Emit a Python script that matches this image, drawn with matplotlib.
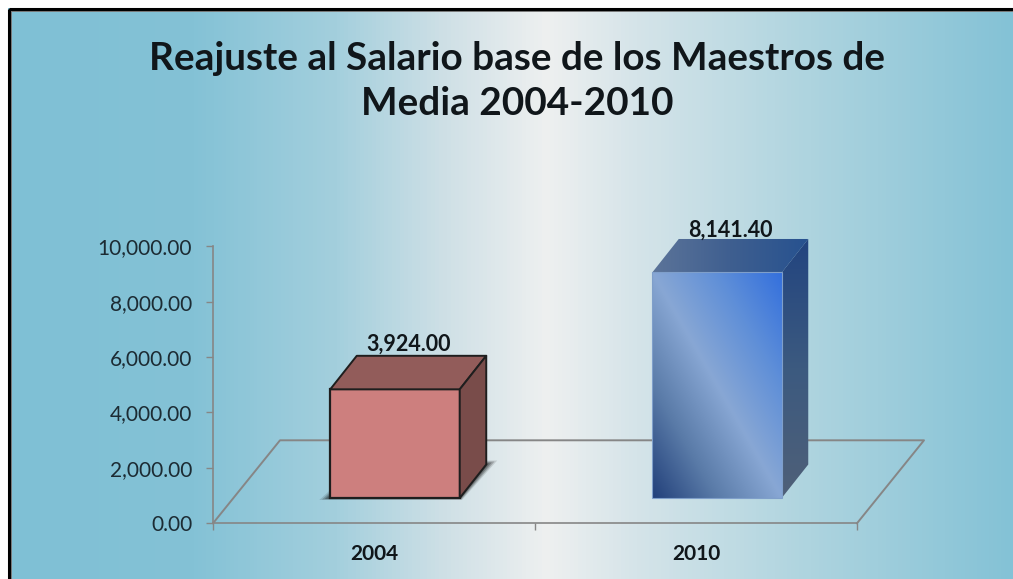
import numpy as np
import matplotlib
matplotlib.use("Agg")
import matplotlib.pyplot as plt
from matplotlib.colors import LinearSegmentedColormap
from matplotlib.patches import Polygon, Rectangle

plt.rcParams['font.family'] = ['Lato', 'DejaVu Sans']

title = "Reajuste al Salario base de los Maestros de\nMedia 2004-2010"
years = ["2004", "2010"]
salaries = [3924.00, 8141.40]
y_ticks = [0, 2000, 4000, 6000, 8000, 10000]

W, H = 1013, 579
GRID = "#868686"
TEXT = "#1c2b33"

# depth of the fake 3d, in pixels
PX_X = 644 / 2  # px per category
PX_Y = 277 / 10000  # px per unit
FLOOR_DX, FLOOR_DY = 67 / PX_X, 83 / PX_Y
BAR_DX, BAR_DY = 26.5 / PX_X, 33.5 / PX_Y
BAR_SHIFT_X, BAR_SHIFT_Y = 21 / PX_X, 25.3 / PX_Y
BAR_W = 129.5 / PX_X


def ramp(stops):
    return LinearSegmentedColormap.from_list("r", stops)


def grad_face(ax, pts, cmap, mode):
    # paint a gradient over the bounding box, clip it to the face
    pts = np.array(pts)
    x0, x1 = pts[:, 0].min(), pts[:, 0].max()
    y0, y1 = pts[:, 1].min(), pts[:, 1].max()
    u, v = np.meshgrid(np.linspace(0, 1, 200), np.linspace(0, 1, 200))
    if mode == "diag":
        t = (u + v) / 2
    elif mode == "x":
        t = u
    else:
        t = v
    im = ax.imshow(t, cmap=cmap, vmin=0, vmax=1, origin="lower", aspect="auto",
                   extent=(x0, x1, y0, y1), zorder=4, interpolation="bilinear")
    im.set_clip_box(fig.bbox)
    im.set_clip_path(Polygon(pts, closed=True, transform=ax.transData))


fig = plt.figure(figsize=(W / 100, H / 100), dpi=100, facecolor="white")

# background with the black frame
bg = fig.add_axes([0, 0, 1, 1])
bg.set_xlim(0, W)
bg.set_ylim(H, 0)
bg.axis("off")
bg_cmap = LinearSegmentedColormap.from_list("bg", [
    (0.00, "#7fc0d5"), (0.19, "#84c2d6"), (0.33, "#a3cfdd"), (0.44, "#cfe0e6"),
    (0.54, "#eef0f0"), (0.63, "#d5e4e9"), (0.80, "#aed4df"), (1.00, "#84c2d6")])
bg.imshow(np.linspace(0, 1, 1013).reshape(1, -1), cmap=bg_cmap, aspect="auto",
          extent=(0, W, H, 0), zorder=0)
bg.set_xlim(0, W)
bg.set_ylim(H, 0)
bg.add_patch(Rectangle((0, 0), 8, H, fc="white", ec="none", zorder=1))
bg.add_patch(Rectangle((0, 0), W, 8, fc="white", ec="none", zorder=1))
bg.add_patch(Rectangle((9, 9), W + 20, H + 20, fill=False, ec="black", lw=2.2, zorder=2))
bg.add_patch(Rectangle((10.5, 10.5), W + 20, H + 20, fill=False, ec="#777777", lw=0.7, zorder=2))

fig.text(517, H - 81, title, transform=None, ha="center", va="center", fontsize=27.9,
         fontweight="bold", color="#10161a", linespacing=1.32)

ax = fig.add_axes([213 / W, (H - 523.3) / H, 644 / W, 277 / H])
ax.patch.set_alpha(0)
x = np.arange(len(years))

# floor
ax.plot([-0.5, -0.5 + FLOOR_DX, 1.5 + FLOOR_DX, 1.5],
        [0, FLOOR_DY, FLOOR_DY, 0], color=GRID, lw=1.4, clip_on=False, zorder=2)

# soft shadow of the first bar
sx = x[0] + BAR_SHIFT_X - BAR_W / 2
sy = BAR_SHIFT_Y
for grow, alpha in zip([1.0, 0.75, 0.5, 0.25], [0.12, 0.2, 0.25, 0.3]):
    ex = grow * 11 / PX_X
    ey = grow * 2 / PX_Y
    ax.add_patch(Polygon([(sx - ex, sy - ey), (sx + BAR_W + 0.2 * ex, sy - ey),
                          (sx + BAR_W + BAR_DX + ex, sy + BAR_DY + 2 * ey),
                          (sx + BAR_W + BAR_DX - 0.02, sy + BAR_DY + 2 * ey),
                          (sx, sy + 4 * ey)],
                         closed=True, fc="black", ec="none", alpha=alpha, clip_on=False, zorder=3))

bars = ax.bar(x + BAR_SHIFT_X, salaries, BAR_W, bottom=BAR_SHIFT_Y,
              color=["#cd7f7e", "none"], edgecolor=["#1e1e1e", "#7f9fca"],
              linewidth=[1.6, 0.8], zorder=5, clip_on=False)

for i, b in enumerate(bars):
    l, r = b.get_x(), b.get_x() + b.get_width()
    bot, top = b.get_y(), b.get_y() + b.get_height()
    top_face = [(l, top), (r, top), (r + BAR_DX, top + BAR_DY), (l + BAR_DX, top + BAR_DY)]
    side_face = [(r, bot), (r + BAR_DX, bot + BAR_DY), (r + BAR_DX, top + BAR_DY), (r, top)]
    if i == 0:
        ax.add_patch(Polygon(top_face, fc="#925c5a", ec="#1e1e1e", lw=1.4, clip_on=False, zorder=5,
                             joinstyle="round"))
        ax.add_patch(Polygon(side_face, fc="#794c4a", ec="#1e1e1e", lw=1.4, clip_on=False, zorder=5,
                             joinstyle="round"))
    else:
        grad_face(ax, [(l, bot), (r, bot), (r, top), (l, top)],
                  ramp(["#22407a", "#5a7ba8", "#88a7d4", "#5f8fd8", "#3470dd"]), "diag")
        grad_face(ax, top_face, ramp(["#5c7499", "#3f5f90", "#27528f"]), "x")
        grad_face(ax, side_face, ramp(["#4f6078", "#3c5a80", "#22447f"]), "y")

# the label of the tall bar sits closer to the box
for xi, val, b, off in zip(x, salaries, bars, [8, 6]):
    ax.annotate(f"{val:,.2f}", (xi + BAR_SHIFT_X + 13.5 / PX_X, b.get_y() + b.get_height() + BAR_DY),
                xytext=(0, off), textcoords="offset points", ha="center", va="center",
                fontsize=15.5, fontweight="bold", color="#10161a", zorder=6, annotation_clip=False)

ax.set_xlim(-0.5, 1.5)
ax.set_ylim(0, 10000)
ax.set_yticks(y_ticks)
ax.set_yticklabels([f"{v:,.2f}" for v in y_ticks], fontsize=15, color=TEXT)
ax.set_xticks([-0.5, 0.5, 1.5])
ax.set_xticklabels([])
ax.set_xticks(x, minor=True)
ax.set_xticklabels(years, minor=True, fontsize=15, fontweight="bold", color="#10161a")
ax.tick_params(axis="y", length=5, width=1, color=GRID, pad=10)
ax.tick_params(axis="x", which="major", length=5, width=1, color=GRID)
ax.tick_params(axis="x", which="minor", length=0, pad=15)
for s in ["top", "right"]:
    ax.spines[s].set_visible(False)
for s in ["left", "bottom"]:
    ax.spines[s].set_color(GRID)
    ax.spines[s].set_linewidth(1.2)

fig.savefig("out.png", dpi=100)
